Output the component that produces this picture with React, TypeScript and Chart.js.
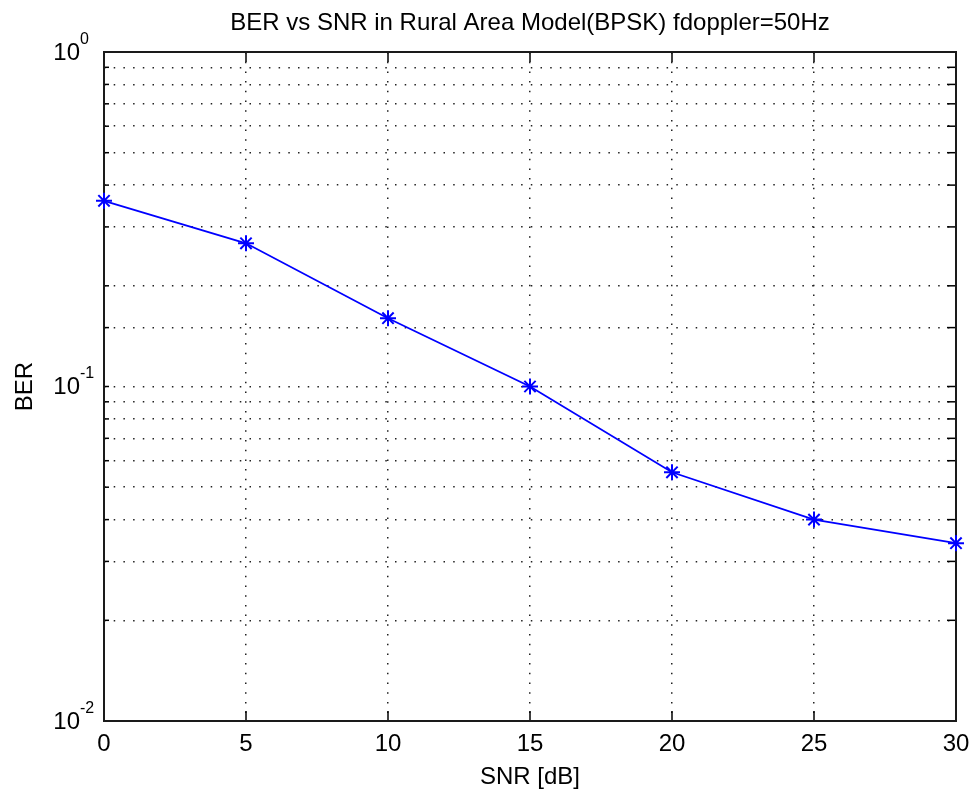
import React, { useEffect, useRef } from "react";
import { Chart, registerables } from "chart.js";

Chart.register(...registerables);

const snrDb = [0, 5, 10, 15, 20, 25, 30];
const berValues = [0.359, 0.268, 0.16, 0.1, 0.0554, 0.04, 0.034];
const xTickValues = [0, 5, 10, 15, 20, 25, 30];
const yDecadeValues = [1, 0.1, 0.01];
const yDecadeExponents = ["0", "-1", "-2"];
const titleText = "BER vs SNR in Rural Area Model(BPSK) fdoppler=50Hz";
const xAxisLabel = "SNR [dB]";
const yAxisLabel = "BER";

const FONT = "'Liberation Sans', Arial, Helvetica, sans-serif";

const matlabAxesPlugin = {
  id: "matlabAxes",
  beforeDatasetsDraw(chart: any) {
    const { ctx, chartArea: a, scales } = chart;
    ctx.save();
    ctx.setLineDash([]);
    ctx.strokeStyle = "#000";
    ctx.lineWidth = 1.5;
    const seg = (x1: number, y1: number, x2: number, y2: number) => {
      ctx.beginPath();
      ctx.moveTo(x1, y1);
      ctx.lineTo(x2, y2);
      ctx.stroke();
    };
    scales.x.ticks.forEach((t: any) => {
      const px = scales.x.getPixelForValue(t.value);
      seg(px, a.bottom, px, a.bottom - 10);
      seg(px, a.top, px, a.top + 10);
    });
    scales.y.ticks.forEach((t: any) => {
      const py = scales.y.getPixelForValue(t.value);
      seg(a.left, py, a.left + 5, py);
      seg(a.right, py, a.right - 9, py);
    });
    ctx.lineWidth = 2;
    ctx.strokeStyle = "#1a1a1a";
    ctx.strokeRect(a.left, a.top, a.right - a.left, a.bottom - a.top);
    ctx.restore();
  },
  afterDraw(chart: any) {
    const { ctx, scales } = chart;
    ctx.save();
    ctx.fillStyle = "#000";
    yDecadeValues.forEach((v, i) => {
      const py = scales.y.getPixelForValue(v);
      ctx.font = `24px ${FONT}`;
      ctx.textAlign = "right";
      ctx.textBaseline = "middle";
      ctx.fillText("10", 80, py + 1);
      ctx.font = `16px ${FONT}`;
      ctx.textAlign = "left";
      ctx.textBaseline = "alphabetic";
      ctx.fillText(yDecadeExponents[i], 80, py - 8.5);
    });
    ctx.restore();
  },
};

export default function App() {
  const canvasRef = useRef<HTMLCanvasElement | null>(null);

  useEffect(() => {
    if (!canvasRef.current) return;
    const chart = new Chart(canvasRef.current, {
      type: "line",
      data: {
        datasets: [
          {
            label: "BER",
            data: snrDb.map((x, i) => ({ x, y: berValues[i] })),
            borderColor: "#0000ff",
            backgroundColor: "#0000ff",
            borderWidth: 1.8,
            pointStyle: "star",
            pointRadius: 8,
            pointBorderWidth: 2,
            pointBorderColor: "#0000ff",
            tension: 0,
            clip: false as any,
          },
        ],
      },
      options: {
        responsive: false,
        animation: false,
        layout: { padding: { left: 0, top: 0, right: 16, bottom: 0 } },
        plugins: {
          legend: { display: false },
          tooltip: { enabled: false },
          title: {
            display: true,
            text: titleText,
            fullSize: false,
            color: "#000",
            font: { family: FONT, size: 24, weight: "normal", lineHeight: 1.25 },
            padding: { top: 8, bottom: 14 },
          },
        },
        scales: {
          x: {
            type: "linear",
            min: 0,
            max: 30,
            afterBuildTicks: (scale: any) => {
              scale.ticks = xTickValues.map((v) => ({ value: v }));
            },
            afterFit: (scale: any) => {
              scale.height = 71;
              scale.paddingLeft = 0;
              scale.paddingRight = 0;
            },
            ticks: {
              color: "#000",
              font: { family: FONT, size: 24 },
              padding: 9,
              maxRotation: 0,
              autoSkip: false,
            },
            grid: {
              drawTicks: false,
              lineWidth: 1.5,
              color: (ctx: any) =>
                ctx.index === 0 || ctx.index === xTickValues.length - 1 ? "rgba(0,0,0,0)" : "#222",
            },
            border: { display: false, dash: [1.5, 8.2] },
            title: {
              display: true,
              text: xAxisLabel,
              color: "#000",
              font: { family: FONT, size: 24, lineHeight: 1.2 },
              padding: { top: 0, bottom: 0 },
            },
          },
          y: {
            type: "logarithmic",
            min: 0.01,
            max: 1,
            afterFit: (scale: any) => {
              scale.width = 104;
              scale.paddingTop = 0;
              scale.paddingBottom = 0;
            },
            ticks: { display: false, autoSkip: false },
            grid: {
              drawTicks: false,
              lineWidth: 1.5,
              color: (ctx: any) =>
                ctx.index === 0 || ctx.index === ctx.scale.ticks.length - 1 ? "rgba(0,0,0,0)" : "#222",
            },
            border: { display: false, dash: [1.5, 8.2] },
            title: {
              display: true,
              text: yAxisLabel,
              color: "#000",
              font: { family: FONT, size: 24, lineHeight: 1.2 },
              padding: { top: 11, bottom: 0 },
            },
          },
        },
      },
      plugins: [matlabAxesPlugin],
    } as any);
    return () => chart.destroy();
  }, []);

  return (
    <div style={{ position: "fixed", left: 0, top: 0, width: 972, height: 792, background: "#fff" }}>
      <canvas ref={canvasRef} width={972} height={792} />
    </div>
  );
}
